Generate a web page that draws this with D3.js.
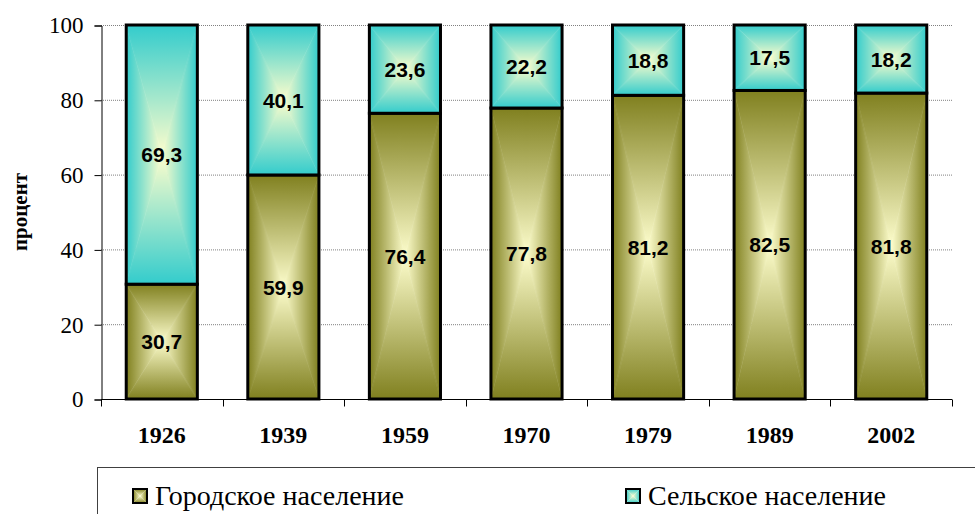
<!DOCTYPE html>
<html lang="ru">
<head>
<meta charset="UTF-8">
<title>Городское и сельское население</title>
<style>
  html, body { margin: 0; padding: 0; background: #fff; }
  svg { display: block; }
  .serif { font-family: "Liberation Serif", "Times New Roman", Times, serif; }
  .sans { font-family: "Liberation Sans", Arial, sans-serif; }
</style>
</head>
<body>
<svg id="svg" width="975" height="514"></svg>
<script src="https://d3js.org/d3.v7.min.js"></script>
<script>
// data
const years = ["1926", "1939", "1959", "1970", "1979", "1989", "2002"];
const urban = [30.7, 59.9, 76.4, 77.8, 81.2, 82.5, 81.8];
const rural = [69.3, 40.1, 23.6, 22.2, 18.8, 17.5, 18.2];
const yTicks = [0, 20, 40, 60, 80, 100];
const seriesNames = ["Городское население", "Сельское население"];

const plot = { left: 101, right: 952, top: 25, bottom: 399 };
const svg = d3.select('#svg');
const defs = svg.append('defs');

// "from center" box gradient: four triangles, each with a linear gradient
function boxGradient(id, edge, center) {
  const sides = [
    { pts: "0,0 1,0 0.5,0.5", x1: 0, y1: 0, x2: 0, y2: 1 },
    { pts: "0,1 1,1 0.5,0.5", x1: 0, y1: 1, x2: 0, y2: 0 },
    { pts: "0,0 0,1 0.5,0.5", x1: 0, y1: 0, x2: 1, y2: 0 },
    { pts: "1,0 1,1 0.5,0.5", x1: 1, y1: 0, x2: 0, y2: 0 }
  ];
  sides.forEach((s, i) => {
    const g = defs.append('linearGradient')
      .attr('id', `${id}-g${i}`)
      .attr('x1', s.x1).attr('y1', s.y1).attr('x2', s.x2).attr('y2', s.y2);
    g.append('stop').attr('offset', 0).attr('stop-color', edge);
    g.append('stop').attr('offset', 1).attr('stop-color', center);
  });
  const p = defs.append('pattern')
    .attr('id', id)
    .attr('patternUnits', 'objectBoundingBox')
    .attr('patternContentUnits', 'objectBoundingBox')
    .attr('width', 1).attr('height', 1);
  sides.forEach((s, i) => {
    p.append('polygon')
      .attr('points', s.pts)
      .attr('fill', `url(#${id}-g${i})`)
      .attr('stroke', `url(#${id}-g${i})`)
      .attr('stroke-width', 0.004);
  });
}
boxGradient('urbanFill', '#80801f', '#fdfdcc');
boxGradient('ruralFill', '#33cccc', '#fdfdcc');
const fills = ['url(#urbanFill)', 'url(#ruralFill)'];

const x = d3.scaleBand().domain(years).range([plot.left, plot.right]).padding(0);
const y = d3.scaleLinear().domain([0, 100]).range([plot.bottom, plot.top]);
const barW = x.bandwidth() * 0.585;

// gridlines
svg.append('g')
  .selectAll('line')
  .data(yTicks.filter(d => d > 0))
  .join('line')
  .attr('x1', plot.left).attr('x2', plot.right)
  .attr('y1', d => y(d) + 0.5).attr('y2', d => y(d) + 0.5)
  .attr('stroke', '#808080')
  .attr('stroke-width', 1)
  .attr('stroke-dasharray', '1,1');

// stacked data
const rows = years.map((yr, i) => ({ year: yr, urban: urban[i], rural: rural[i] }));
const stack = d3.stack().keys(['urban', 'rural'])(rows);

const layers = svg.append('g')
  .selectAll('g')
  .data(stack)
  .join('g')
  .attr('fill', (d, i) => fills[i]);

layers.selectAll('rect')
  .data(d => d)
  .join('rect')
  .attr('x', d => x(d.data.year) + (x.bandwidth() - barW) / 2)
  .attr('width', barW)
  .attr('y', d => y(d[1]))
  .attr('height', d => y(d[0]) - y(d[1]))
  .attr('stroke', '#000')
  .attr('stroke-width', 3);

// value labels
layers.selectAll('text')
  .data(d => d.map(v => ({ v, key: d.key })))
  .join('text')
  .attr('class', 'sans')
  .attr('x', d => x(d.v.data.year) + x.bandwidth() / 2)
  .attr('y', d => y((d.v[0] + d.v[1]) / 2))
  .attr('dy', '0.36em')
  .attr('text-anchor', 'middle')
  .attr('fill', '#000')
  .attr('font-weight', 'bold')
  .attr('font-size', 21)
  .text(d => d3.format('.1f')(d.v.data[d.key]).replace('.', ','));

// y axis
const leftAxis = d3.axisLeft(y).tickValues(yTicks).tickSize(7).tickPadding(11);
const gy = svg.append('g')
  .attr('transform', `translate(${plot.left + 0.5}, 0.5)`)
  .call(leftAxis)
  .attr('font-family', null)
  .attr('font-size', null);
gy.select('.domain').attr('stroke', '#000');
gy.selectAll('.tick line').attr('stroke', '#000');
gy.selectAll('text')
  .attr('class', 'serif')
  .attr('fill', '#000')
  .attr('font-size', 23);

// x axis
const bottomAxis = d3.axisBottom(x).tickSize(0).tickPadding(26);
const gx = svg.append('g')
  .attr('transform', `translate(0, ${plot.bottom + 0.5})`)
  .call(bottomAxis)
  .attr('font-family', null)
  .attr('font-size', null);
gx.select('.domain').attr('stroke', '#000').attr('d', `M${plot.left},0H${plot.right}`);
gx.selectAll('text')
  .attr('class', 'serif')
  .attr('fill', '#000')
  .attr('font-weight', 'bold')
  .attr('font-size', 24);
// tick marks on category boundaries
gx.append('g')
  .selectAll('line')
  .data(years.map(d => x(d)).concat([plot.right]))
  .join('line')
  .attr('x1', d => Math.round(d) + 0.5).attr('x2', d => Math.round(d) + 0.5)
  .attr('y1', 0).attr('y2', 7)
  .attr('stroke', '#000');

// y label
svg.append('text')
  .attr('class', 'serif')
  .attr('transform', `translate(27, ${(plot.top + plot.bottom) / 2}) rotate(-90)`)
  .attr('text-anchor', 'middle')
  .attr('font-weight', 'bold')
  .attr('font-size', 21)
  .text('процент');

// legend
const legend = svg.append('g');
legend.append('rect')
  .attr('x', 97.5).attr('y', 467.5)
  .attr('width', 900).attr('height', 100)
  .attr('fill', '#fff')
  .attr('stroke', '#404040');
const legendX = [133, 626];
seriesNames.forEach((name, i) => {
  legend.append('rect')
    .attr('x', legendX[i]).attr('y', 489)
    .attr('width', 14).attr('height', 14)
    .attr('fill', fills[i])
    .attr('stroke', '#000')
    .attr('stroke-width', 2);
  legend.append('text')
    .attr('class', 'serif')
    .attr('x', legendX[i] + 22).attr('y', 505)
    .attr('font-size', 28)
    .text(name);
});
</script>
</body>
</html>
